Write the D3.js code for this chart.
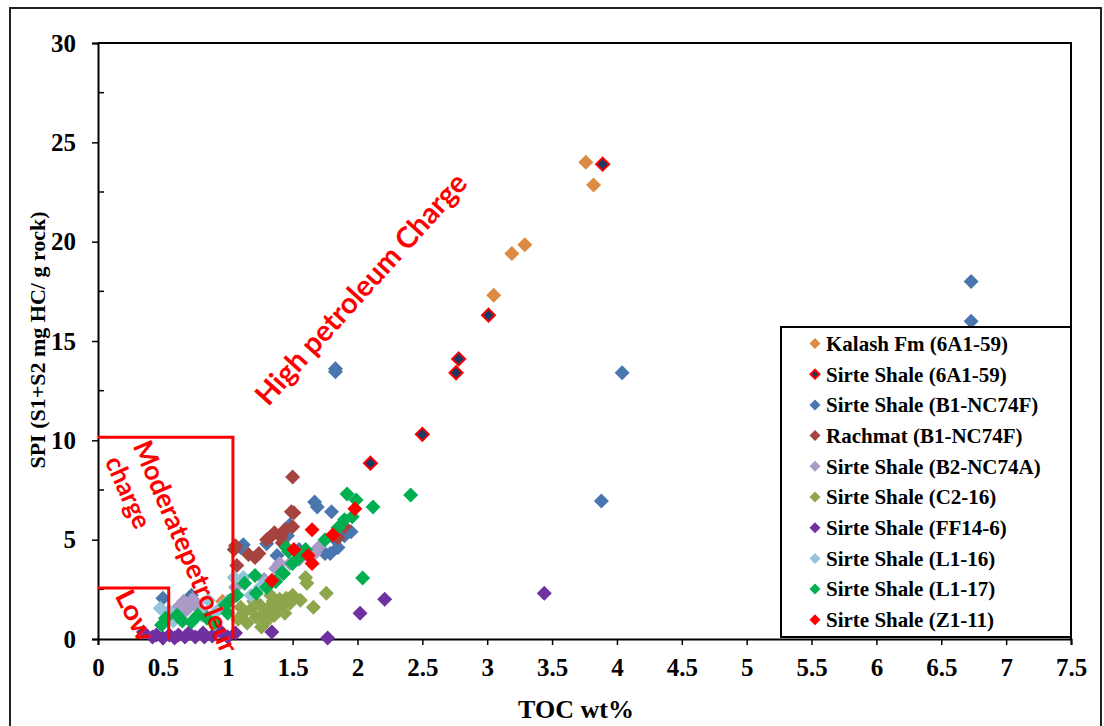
<html>
<head>
<style>
body { margin:0; background:#fff; }
svg text { font-family:"Liberation Serif","Times New Roman",serif; font-weight:bold; fill:#000; }
.tick text { font-size:25px; }
.note { font-family:Lato,"Open Sans",sans-serif !important; font-weight:bold; fill:#ff0000 !important; }
</style>
</head>
<body>
<svg id="chart" width="1104" height="726"></svg>
<script src="https://d3js.org/d3.v7.min.js"></script>
<script>
// axis ticks
var xTicks = [0,0.5,1,1.5,2,2.5,3,3.5,4,4.5,5,5.5,6,6.5,7,7.5];
var yTicks = [0,5,10,15,20,25,30];
var yMinor = [2.5,7.5,12.5,17.5,22.5,27.5];

// series (TOC wt%, SPI)
var kalashToc = [0.96,3.05,3.19,3.29,3.76,3.82];
var kalashSpi = [1.9,17.3,19.4,19.85,24.0,22.85];

var sirte6a1Toc = [2.10,2.50,2.76,2.78,3.01,3.89];
var sirte6a1Spi = [8.85,10.3,13.4,14.1,16.3,23.9];

var sirteB1Toc = [6.73,6.73,4.04,3.88,1.83,1.83,1.67,1.69,1.80,1.48,1.83,1.75,1.46,1.12,0.50,0.72,1.90,1.85,1.38,1.55,1.95,1.79,1.10,1.30];
var sirteB1Spi = [18.0,16.0,13.4,6.95,13.6,13.45,6.9,6.65,6.4,5.75,5.0,4.3,5.2,4.75,2.05,2.2,5.2,4.6,4.2,4.5,5.4,4.3,4.6,4.8];

var rachmatToc = [1.50,1.51,1.50,1.90,1.36,1.41,1.33,1.42,1.06,1.16,1.21,1.24,1.07,1.30,1.44,1.85,1.05,1.49];
var rachmatSpi = [8.15,6.35,5.65,5.65,5.35,5.15,5.15,4.85,4.7,4.25,4.1,4.3,3.7,5.0,5.5,5.1,4.5,6.4];

var sirteB2Toc = [0.61,0.66,0.70,0.73,0.76,0.68,0.64,1.67,1.37,1.06,0.77,1.40,1.28,1.55,1.70,1.48,0.58,0.80];
var sirteB2Spi = [1.55,1.9,1.6,2.0,1.75,1.45,1.3,4.3,3.55,2.6,1.6,3.8,3.0,4.0,4.6,3.8,1.2,1.4];

var sirteC2Toc = [1.60,1.61,1.76,1.66,1.45,1.56,1.08,1.12,1.15,1.18,1.22,1.25,1.28,1.30,1.32,1.35,1.36,1.38,1.40,1.42,1.44,1.48,1.50,1.20,1.10,1.33,1.26];
var sirteC2Spi = [3.1,2.8,2.3,1.6,2.05,1.95,1.0,1.3,0.8,1.5,1.1,1.7,1.3,0.9,1.6,1.9,1.2,1.5,2.0,1.7,1.3,1.8,2.2,1.9,1.6,2.2,0.6];

var sirteFFToc = [3.44,2.21,2.02,1.77,1.34,1.06,0.82,0.35,0.42,0.50,0.59,0.67,0.75,0.81,0.88,0.95,1.00,0.45,0.70,0.55,0.62];
var sirteFFSpi = [2.3,2.0,1.3,0.05,0.35,0.3,0.1,0.35,0.1,0.05,0.05,0.1,0.1,0.3,0.15,0.35,0.1,0.2,0.3,0.2,0.2];

var sirteL16Toc = [0.48,0.55,1.12,1.25,1.29,0.85,0.90,0.95,1.05,1.00,0.58,1.18,1.35,0.80];
var sirteL16Spi = [1.55,1.4,3.1,2.6,2.8,1.95,1.3,1.6,3.1,1.9,0.9,2.2,3.0,1.2];

var sirteL17Toc = [2.41,2.04,1.92,1.99,2.12,1.96,1.75,1.47,1.50,1.43,1.45,1.21,1.13,1.42,1.22,1.07,1.02,0.98,0.84,0.52,0.61,0.72,0.77,0.49,0.90,1.55,1.60,1.85,1.90,0.65,1.00,1.30,1.37];
var sirteL17Spi = [7.25,3.07,7.3,7.0,6.65,6.15,5.0,4.4,3.8,3.3,4.6,3.2,2.8,3.35,2.3,2.2,1.95,1.7,1.05,1.05,1.2,0.85,1.2,0.7,0.8,4.1,4.5,5.6,6.0,0.9,1.3,2.6,2.9];

var sirteZ1Toc = [1.98,1.65,1.81,1.51,1.62,1.65,1.34];
var sirteZ1Spi = [6.55,5.5,5.25,4.5,4.2,3.8,2.95];

var seriesNames = ["Kalash Fm (6A1-59)","Sirte Shale (6A1-59)","Sirte Shale (B1-NC74F)","Rachmat (B1-NC74F)","Sirte Shale (B2-NC74A)","Sirte Shale (C2-16)","Sirte Shale (FF14-6)","Sirte Shale (L1-16)","Sirte Shale (L1-17)","Sirte Shale (Z1-11)"];
var seriesFill = ["#dd8a44","#1f3864","#4a76b0","#a5443f","#a99bc6","#8ea64b","#7030a0","#92c5da","#00b050","#ff0000"];
var seriesStroke = [null,"#ff0000",null,null,null,null,null,null,null,null];
var seriesToc = [kalashToc,sirte6a1Toc,sirteB1Toc,rachmatToc,sirteB2Toc,sirteC2Toc,sirteFFToc,sirteL16Toc,sirteL17Toc,sirteZ1Toc];
var seriesSpi = [kalashSpi,sirte6a1Spi,sirteB1Spi,rachmatSpi,sirteB2Spi,sirteC2Spi,sirteFFSpi,sirteL16Spi,sirteL17Spi,sirteZ1Spi];

// charge zones (TOC limit, SPI limit)
var lowZone = [0.545,2.57];
var moderateZone = [1.04,10.15];

var plotL=98, plotR=1071, plotT=43, plotB=639;
var x = d3.scaleLinear().domain([0,7.5]).range([plotL,plotR]);
var y = d3.scaleLinear().domain([0,30]).range([plotB,plotT]);

var svg = d3.select('#chart');

// outer chart border
svg.append('rect')
  .attr('x',10).attr('y',8).attr('width',1091).attr('height',730)
  .attr('fill','#fff').attr('stroke','#222').attr('stroke-width',2);

// plot frame top and right
svg.append('path')
  .attr('d','M'+plotL+','+plotT+'H'+plotR+'V'+plotB)
  .attr('fill','none').attr('stroke','#000').attr('stroke-width',2);

// axes
var xAxis = svg.append('g')
  .attr('transform','translate(0,'+plotB+')')
  .call(d3.axisBottom(x).tickValues(xTicks).tickSize(6).tickPadding(12).tickFormat(function(d){return d3.format('')(d);}));
xAxis.select('.domain').attr('stroke-width',2);
xAxis.selectAll('.tick line').attr('stroke-width',1.5);
xAxis.selectAll('.tick text').attr('dy','0.75em');

var yAxis = svg.append('g')
  .attr('transform','translate('+plotL+',0)')
  .call(d3.axisLeft(y).tickValues(yTicks).tickSize(6).tickPadding(16));
yAxis.select('.domain').attr('stroke-width',2);
yAxis.selectAll('.tick line').attr('stroke-width',1.5);

svg.append('g').selectAll('line')
  .data(yMinor).enter().append('line')
  .attr('x1',plotL).attr('x2',plotL+6)
  .attr('y1',function(d){return y(d);}).attr('y2',function(d){return y(d);})
  .attr('stroke','#000').attr('stroke-width',1.5);

// axis titles
svg.append('text')
  .attr('x',576).attr('y',718)
  .attr('text-anchor','middle')
  .style('font-size','26px')
  .text('TOC wt%');

svg.append('text')
  .attr('transform','translate(45,340) rotate(-90)')
  .attr('text-anchor','middle')
  .style('font-size','22px')
  .text('SPI (S1+S2 mg HC/ g rock)');

// points
var diamond = function(r){ return 'M0,'+(-r)+'L'+r+',0L0,'+r+'L'+(-r)+',0Z'; };

seriesNames.forEach(function(name,i){
  var pts = seriesToc[i].map(function(t,j){ return {toc:t, spi:seriesSpi[i][j]}; });
  svg.append('g').selectAll('path')
    .data(pts).enter().append('path')
    .attr('d', seriesStroke[i] ? diamond(6.5) : diamond(7.5))
    .attr('transform',function(d){return 'translate('+x(d.toc)+','+y(d.spi)+')';})
    .attr('fill',seriesFill[i])
    .attr('stroke',seriesStroke[i] || 'none')
    .attr('stroke-width',2);
});

// charge zones
svg.append('path')
  .attr('d','M'+x(0)+','+y(moderateZone[1])+'H'+x(moderateZone[0])+'V'+y(0))
  .attr('fill','none').attr('stroke','#ff0000').attr('stroke-width',3);
svg.append('path')
  .attr('d','M'+x(0)+','+y(lowZone[1])+'H'+x(lowZone[0])+'V'+y(0))
  .attr('fill','none').attr('stroke','#ff0000').attr('stroke-width',3);

svg.append('clipPath').attr('id','noteclip')
  .append('rect').attr('x',0).attr('y',0).attr('width',1104).attr('height',650);

var notes = svg.append('g').attr('clip-path','url(#noteclip)');

var addNote = function(txt,cx,cy,ang,size,len){
  var t = notes.append('text')
    .attr('class','note')
    .attr('transform','translate('+cx+','+cy+') rotate('+ang+')')
    .attr('text-anchor','middle')
    .attr('dominant-baseline','central')
    .style('font-size',size+'px')
    .text(txt);
  if(len) t.attr('textLength',len).attr('lengthAdjust','spacingAndGlyphs');
};
addNote('High petroleum Charge',360,288,-48,29,300);
addNote('Moderatepetroleum',189,552,67,27,240);
addNote('charge',129,492,66,26,76);
addNote('Low',136,615,63,27,54);

// legend
var legend = svg.append('g');
legend.append('rect')
  .attr('x',781).attr('y',327).attr('width',290).attr('height',310)
  .attr('fill','#fff').attr('stroke','#000').attr('stroke-width',2);

var item = legend.selectAll('g.item')
  .data(seriesNames).enter().append('g')
  .attr('class','item')
  .attr('transform',function(d,i){return 'translate(815,'+(343.5+i*30.7)+')';});

item.append('path')
  .attr('d',function(d,i){return seriesStroke[i] ? diamond(4.5) : diamond(5.5);})
  .attr('fill',function(d,i){return seriesFill[i];})
  .attr('stroke',function(d,i){return seriesStroke[i] || 'none';})
  .attr('stroke-width',2);

item.append('text')
  .attr('x',11).attr('dy','0.35em')
  .style('font-size','21px')
  .text(function(d){return d;});
</script>
</body>
</html>
